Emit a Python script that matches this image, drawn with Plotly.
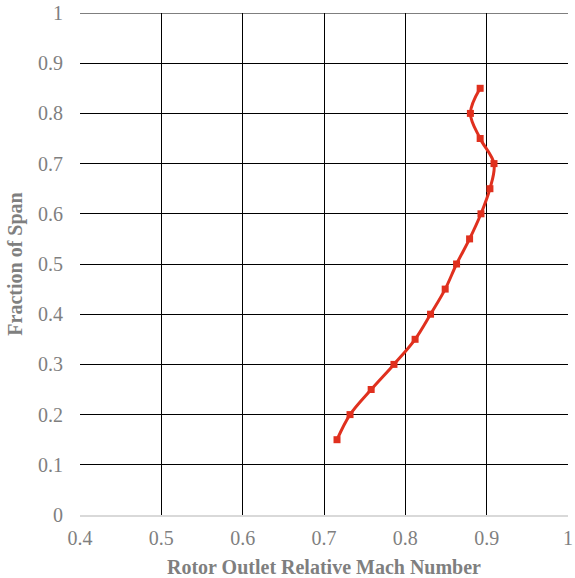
import plotly.graph_objects as go

# Rotor outlet relative Mach number along the blade span
mach = [0.716, 0.732, 0.758, 0.786, 0.812, 0.831, 0.849, 0.863, 0.879,
        0.893, 0.904, 0.909, 0.892, 0.880, 0.892]
span = [0.15, 0.20, 0.25, 0.30, 0.35, 0.40, 0.45, 0.50, 0.55,
        0.60, 0.65, 0.70, 0.75, 0.80, 0.85]

x_ticks = [0.4, 0.5, 0.6, 0.7, 0.8, 0.9, 1.0]
x_labels = ["0.4", "0.5", "0.6", "0.7", "0.8", "0.9", "1"]
y_ticks = [0, 0.1, 0.2, 0.3, 0.4, 0.5, 0.6, 0.7, 0.8, 0.9, 1.0]
y_labels = ["0", "0.1", "0.2", "0.3", "0.4", "0.5", "0.6", "0.7", "0.8", "0.9", "1"]

red = "#e0301e"
grey = "#7f7f7f"
font_family = "Liberation Serif, Times New Roman, serif"

fig = go.Figure()
fig.add_trace(go.Scatter(
    x=mach, y=span,
    mode="lines+markers",
    line=dict(color=red, width=3, shape="spline", smoothing=1.0),
    marker=dict(symbol="square", size=7, color=red),
    showlegend=False,
))

# top border of the plot area (gridline at span = 1)
fig.add_shape(type="line", xref="paper", yref="y", x0=0, x1=1, y0=1, y1=1,
              line=dict(color="black", width=1), layer="below")

fig.update_layout(
    width=575, height=578,
    margin=dict(l=80, r=7, t=13, b=63),
    paper_bgcolor="white",
    plot_bgcolor="white",
    font=dict(family=font_family, color=grey, size=20),
)

fig.update_xaxes(
    range=[0.4, 1.0],
    tickvals=x_ticks, ticktext=x_labels,
    showgrid=True, gridcolor="black", gridwidth=1,
    zeroline=False, automargin=False,
    showline=True, linecolor="#d9d9d9", linewidth=1.5,
    ticks="", ticklabelstandoff=4,
    tickfont=dict(size=20, color=grey),
    title=dict(text="<b>Rotor Outlet Relative Mach Number</b>",
               font=dict(size=20, color=grey), standoff=12),
)
fig.update_yaxes(
    range=[0, 1.0],
    tickvals=y_ticks, ticktext=y_labels,
    showgrid=True, gridcolor="black", gridwidth=1,
    zeroline=False, automargin=False,
    showline=False,
    ticks="", ticklabelstandoff=16,
    tickfont=dict(size=20, color=grey),
    title=dict(text="<b>Fraction of Span</b>",
               font=dict(size=20, color=grey), standoff=10),
)

fig.write_html("out.html")
